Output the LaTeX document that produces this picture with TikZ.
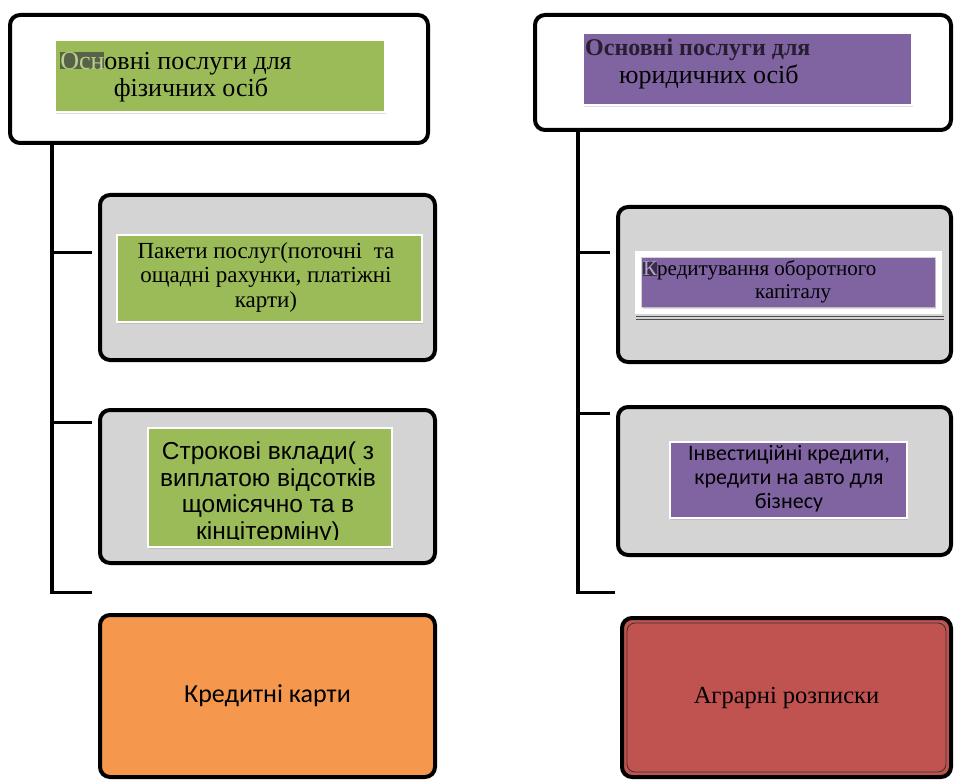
\documentclass[tikz,border=0pt]{standalone}
\usepackage{fontspec}
\setmainfont{Liberation Serif}
\newfontfamily\arialfont{Liberation Sans}
\newfontfamily\calibrifont{Carlito}
\usepackage{tikz}
\usetikzlibrary{shadows,positioning}
\definecolor{olivegreen}{RGB}{155,187,89}
\definecolor{lavender}{RGB}{128,100,162}
\definecolor{panelgray}{RGB}{212,212,212}
\definecolor{carrot}{RGB}{245,152,78}
\definecolor{brick}{RGB}{192,82,80}
\definecolor{hlgray}{RGB}{88,98,70}
\newcommand{\hlgreen}[1]{{\setlength{\fboxsep}{0pt}\colorbox{hlgray}{\textcolor{olivegreen!70!white}{#1}}}}
\newcommand{\hlpurple}[1]{{\setlength{\fboxsep}{0pt}\colorbox{lavender!45!black}{\textcolor{lavender!60!white}{#1}}}}

\begin{document}
\begin{tikzpicture}[x=1pt, y=-1pt,
    outerbox/.style={draw=black, line width=4pt, rounded corners=10pt, inner sep=0pt},
    innerbox/.style={draw=white, line width=2.5pt, inner sep=0pt,
        drop shadow={opacity=0.25, shadow xshift=1pt, shadow yshift=-2pt}},
    spine/.style={line width=3.5pt},
    branch/.style={line width=3pt},
    label/.style={inner sep=0pt, align=center}]
    \useasboundingbox (0,0) rectangle (954,781);

    % ліва колонка: фізичні особи
    \node[outerbox, fill=white, minimum width=418pt, minimum height=128pt] (famL) at (219,79) {};
    \node[innerbox, fill=olivegreen, minimum width=330pt, minimum height=72pt] (famLin) at (220,76) {};
    \node[label, font=\fontsize{26}{27.5}\selectfont] (famLtxt) at (176,77)
        {\hlgreen{Осн}овні послуги для\\ \hspace*{30pt}фізичних осіб};

    \node[outerbox, fill=panelgray, minimum width=335pt, minimum height=165pt] (pkg) at (267.5,277.5) {};
    \node[innerbox, fill=olivegreen, minimum width=305pt, minimum height=87pt] (pkgin) at (269.5,278.5) {};
    \node[label, font=\fontsize{23}{24.5}\selectfont] (pkgtxt) at (266,277)
        {Пакети послуг(поточні \ та\\ощадні рахунки, платіжні\\карти)};

    \node[outerbox, fill=panelgray, minimum width=335pt, minimum height=153pt] (term) at (267.5,486.5) {};
    \node[innerbox, fill=olivegreen, minimum width=244pt, minimum height=119pt] (termin) at (270,487.5) {};
    \begin{scope}
        \clip (148,428) rectangle (392,539);
        \node[label, font=\arialfont\fontsize{24.5}{26.5}\selectfont] (termtxt) at (268,493)
            {Строкові вклади( з\\виплатою відсотків\\щомісячно та в\\кінцітерміну)};
    \end{scope}

    \node[outerbox, fill=carrot, minimum width=335pt, minimum height=162pt,
        font=\calibrifont\fontsize{26}{28}\selectfont] (card) at (267.5,696) {Кредитні карти};

    % права колонка: юридичні особи
    \node[outerbox, fill=white, minimum width=416pt, minimum height=115pt] (famR) at (743,72.5) {};
    \node[innerbox, fill=lavender, minimum width=329pt, minimum height=72pt] (famRin) at (747.5,69) {};
    \node[label, align=left, anchor=west, font=\fontsize{26}{28}\selectfont] (famRtxt) at (585,64)
        {\textcolor{lavender!30!black}{\fontsize{24}{28}\selectfont\textbf{Основні послуги для}}\\ \hspace*{34pt}юридичних осіб};

    \node[outerbox, fill=panelgray, minimum width=333pt, minimum height=155pt] (circ) at (784.5,284.5) {};
    \draw[white, line width=6pt] (638,254) rectangle (939,311);
    \draw[gray!60!black, thin] (636,316) -- (944,316);
    \draw[gray!60!black, thin] (636,319) -- (944,319);
    \node[innerbox, draw=none, fill=lavender, minimum width=293pt, minimum height=49pt] (circin) at (788.5,282.5) {};
    \node[label, align=left, anchor=west, font=\fontsize{21}{23}\selectfont] (circtxt) at (643,282)
        {\hlpurple{К}редитування оборотного\\ \hspace*{112pt}капіталу};

    \node[outerbox, fill=panelgray, minimum width=333pt, minimum height=148pt] (inv) at (784.5,481) {};
    \node[innerbox, fill=lavender, minimum width=237pt, minimum height=76pt] (invin) at (788.5,480) {};
    \node[label, font=\calibrifont\fontsize{22}{24}\selectfont] (invtxt) at (789,479)
        {Інвестиційні кредити,\\кредити на авто для\\бізнесу};

    \node[outerbox, fill=brick, minimum width=329pt, minimum height=159pt,
        font=\fontsize{24.5}{27}\selectfont] (agro) at (786.5,697.5) {Аграрні розписки};
    \draw[black!80, line width=0.8pt, rounded corners=8pt] (627,623) rectangle (946,772);

    % сполучні лінії
    \coordinate (spineL) at (52,0);
    \coordinate (spineR) at (578,0);
    \coordinate (endL) at (52,594);
    \coordinate (endR) at (578,594);
    \coordinate (tickL1) at (92,252);
    \coordinate (tickL2) at (92,422);
    \coordinate (tickL3) at (92,592);
    \coordinate (tickR1) at (610,252);
    \coordinate (tickR2) at (610,413);
    \coordinate (tickR3) at (615,592);
    \draw[spine] (famL.south -| spineL) -- (endL);
    \draw[spine] (famR.south -| spineR) -- (endR);
    \foreach \t in {tickL1,tickL2,tickL3}
        \draw[branch] (spineL |- \t) -- (\t);
    \foreach \t in {tickR1,tickR2,tickR3}
        \draw[branch] (spineR |- \t) -- (\t);
\end{tikzpicture}
\end{document}
